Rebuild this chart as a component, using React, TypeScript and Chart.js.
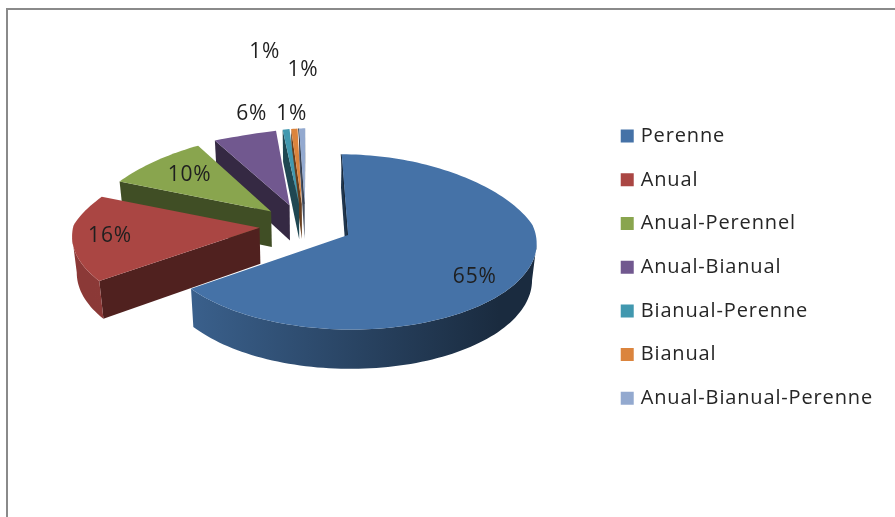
import React, { useEffect, useRef } from "react";
import { Chart, registerables } from "chart.js";

Chart.register(...registerables);

const categories = ["Perenne", "Anual", "Anual-Perennel", "Anual-Bianual", "Bianual-Perenne", "Bianual", "Anual-Bianual-Perenne"];
const shares = [65, 16, 10, 6, 1, 1, 1];
const colours = ["#4572A7", "#AA4643", "#89A54E", "#71588F", "#4198AF", "#DB843D", "#93A9CF"];
const labelReach = [0.76, 0.81, 0.69, 1.26, 1.15, 1.15, 1.15];
const labelNudgeX = [-5, 2, 2, -24, -1, 4.6, -38.8];
const labelNudgeY = [11, -1, -1, -4, -5.5, -49, -66];

const VIEW = { cx: 306, cy: 225 };
const FONT = "'Open Sans', sans-serif";
const SPACING = "0.85px";

function rgbParts(hex: string, k: number) {
  const n = parseInt(hex.slice(1), 16);
  return `rgb(${Math.round((n >> 16) * k)},${Math.round(((n >> 8) & 255) * k)},${Math.round((n & 255) * k)})`;
}

// Oblique perspective view of the pie plane; X and Y are in radii, Y points away from the viewer.
function project(X: number, Y: number, dropped: boolean) {
  let wide = Y < 0 ? 186 - 15 * Y : 186 - (X > 0 ? 30 : 38) * Y;
  if (Y > 1.08) wide -= 240 * (Y - 1.08);
  const sx = dropped ? 0.98 : 1;
  return {
    x: VIEW.cx + X * wide * sx,
    y: VIEW.cy - (86 * Y - 7 * Y * Y) + (dropped ? 36 - 3 * Y : 0),
  };
}

function sliceOutline(el: any) {
  const p = el.getProps(["startAngle", "endAngle", "outerRadius"], true);
  const mid = (p.startAngle + p.endAngle) / 2;
  const e = el.options.offset / p.outerRadius;
  const ox = Math.cos(mid) * e;
  const oy = -Math.sin(mid) * e;
  const pts = [{ X: ox, Y: oy }];
  const steps = Math.max(3, Math.ceil((p.endAngle - p.startAngle) / 0.03));
  for (let i = 0; i <= steps; i++) {
    const t = p.startAngle + ((p.endAngle - p.startAngle) * i) / steps;
    pts.push({ X: ox + Math.cos(t), Y: oy - Math.sin(t) });
  }
  return { pts, ox, oy, mid };
}

function faceVisible(a: any, b: any) {
  return project(b.X, b.Y, false).x - project(a.X, a.Y, false).x < 0;
}

function fillFace(ctx: CanvasRenderingContext2D, run: any[], fill: any) {
  ctx.beginPath();
  run.forEach((q, k) => {
    const s = project(q.X, q.Y, false);
    if (k === 0) ctx.moveTo(s.x, s.y);
    else ctx.lineTo(s.x, s.y);
  });
  [...run].reverse().forEach((q) => {
    const s = project(q.X, q.Y, true);
    ctx.lineTo(s.x, s.y);
  });
  ctx.closePath();
  ctx.fillStyle = fill;
  ctx.fill();
}

function rimGradient(ctx: CanvasRenderingContext2D, colour: string) {
  const g = ctx.createLinearGradient(90, 0, 530, 0);
  g.addColorStop(0, rgbParts(colour, 0.82));
  g.addColorStop(0.23, rgbParts(colour, 0.84));
  g.addColorStop(0.93, rgbParts(colour, 0.38));
  g.addColorStop(1, rgbParts(colour, 0.38));
  return g;
}

const pie3d = {
  id: "pie3d",
  beforeUpdate(chart: any) {
    chart.ctx.letterSpacing = SPACING;
  },
  beforeDraw(chart: any) {
    chart.ctx.letterSpacing = SPACING;
  },
  beforeDatasetsDraw(chart: any) {
    const ctx: CanvasRenderingContext2D = chart.ctx;
    const arcs = chart.getDatasetMeta(0).data;
    const order = [0, ...arcs.map((_: any, i: number) => i).slice(1).reverse()];
    ctx.save();
    for (const i of order) {
      const colour = colours[i];
      const { pts } = sliceOutline(arcs[i]);
      const n = pts.length;
      // radial faces
      if (faceVisible(pts[0], pts[1])) fillFace(ctx, [pts[0], pts[1]], rgbParts(colour, 0.47));
      if (faceVisible(pts[n - 1], pts[0])) fillFace(ctx, [pts[n - 1], pts[0]], rgbParts(colour, 0.47));
      // rim: consecutive arc points that face the viewer
      let run: any[] = [];
      const grad = rimGradient(ctx, colour);
      for (let k = 1; k < n - 1; k++) {
        if (faceVisible(pts[k], pts[k + 1])) {
          if (!run.length) run.push(pts[k]);
          run.push(pts[k + 1]);
        } else if (run.length) {
          fillFace(ctx, run, grad);
          run = [];
        }
      }
      if (run.length) fillFace(ctx, run, grad);
      // near-vertical radial edge shows as a thin dark seam
      const a = project(pts[0].X, pts[0].Y, false);
      const b = project(pts[1].X, pts[1].Y, false);
      if (Math.abs(a.x - b.x) < 7) {
        ctx.beginPath();
        ctx.moveTo(a.x - 0.5, a.y);
        ctx.lineTo(b.x - 0.5, b.y);
        ctx.strokeStyle = rgbParts(colour, 0.35);
        ctx.lineWidth = 1;
        ctx.stroke();
      }
      // top face
      ctx.beginPath();
      pts.forEach((q, k) => {
        const s = project(q.X, q.Y, false);
        if (k === 0) ctx.moveTo(s.x, s.y);
        else ctx.lineTo(s.x, s.y);
      });
      ctx.closePath();
      ctx.fillStyle = colour;
      ctx.fill();
    }
    // percentage labels
    ctx.font = `21px ${FONT}`;
    ctx.fillStyle = "#1f1f1f";
    ctx.textAlign = "center";
    ctx.textBaseline = "middle";
    arcs.forEach((el: any, i: number) => {
      const { ox, oy, mid } = sliceOutline(el);
      const r = labelReach[i];
      const s = project(ox + Math.cos(mid) * r, oy - Math.sin(mid) * r, false);
      ctx.fillText(`${shares[i]}%`, s.x + labelNudgeX[i], s.y + labelNudgeY[i]);
    });
    ctx.restore();
    return false;
  },
};

export default function App() {
  const ref = useRef<HTMLCanvasElement>(null);
  useEffect(() => {
    document.body.style.margin = "0";
    document.body.style.background = "#fff";
    const chart = new Chart(ref.current!, {
      type: "pie",
      data: {
        labels: categories,
        datasets: [{ data: shares, backgroundColor: colours, borderWidth: 0, offset: 55.8 }],
      },
      options: {
        responsive: false,
        animation: false,
        layout: { padding: { top: 17.4, right: 12 } },
        plugins: {
          tooltip: { enabled: false },
          legend: {
            position: "right",
            labels: {
              usePointStyle: true,
              pointStyle: "rect",
              boxWidth: 7,
              boxHeight: 13,
              padding: 23.7,
              color: "#262626",
              font: { family: FONT, size: 20 },
            },
          },
        },
      },
      plugins: [pie3d],
    } as any);
    return () => chart.destroy();
  }, []);
  return (
    <div style={{ position: "relative", width: 895, height: 517, overflow: "hidden", background: "#fff" }}>
      <canvas ref={ref} width={895} height={517} style={{ display: "block", filter: "blur(0.5px)" }} />
      <div
        style={{
          position: "absolute",
          left: 6,
          top: 8,
          right: 0,
          bottom: 0,
          borderLeft: "2.5px solid #8a8a8a",
          borderTop: "2.5px solid #8a8a8a",
        }}
      />
    </div>
  );
}
